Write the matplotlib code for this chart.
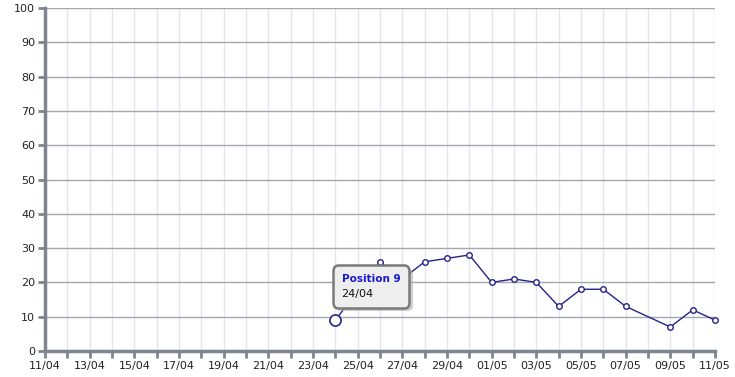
import matplotlib
matplotlib.use("Agg")
import matplotlib.pyplot as plt
import matplotlib.dates as mdates
from matplotlib.offsetbox import TextArea, VPacker, AnnotationBbox
import pandas as pd

# data
dates = ["2010-04-24", "2010-04-26", "2010-04-27", "2010-04-28", "2010-04-29",
         "2010-04-30", "2010-05-01", "2010-05-02", "2010-05-03", "2010-05-04",
         "2010-05-05", "2010-05-06", "2010-05-07", "2010-05-09", "2010-05-10",
         "2010-05-11"]
positions = [9, 26, 21, 26, 27, 28, 20, 21, 20, 13, 18, 18, 13, 7, 12, 9]
start, end = "2010-04-11", "2010-05-11"
tip_title = "Position 9"
tip_date = "24/04"

x = pd.to_datetime(dates)
axis_grey = "#7f858f"
line_col = "#23238c"

fig = plt.figure(figsize=(7.35, 3.77), dpi=100)
ax = fig.add_axes([45 / 735, 26 / 377, 670 / 735, 343 / 377])

# grid
ax.set_ylim(0, 100)
ax.set_xlim(pd.Timestamp(start), pd.Timestamp(end))
ax.set_yticks(range(0, 101, 10))
ax.set_xticks(pd.date_range(start, end, freq="2D"))
ax.set_xticks(pd.date_range(start, end, freq="D"), minor=True)
ax.xaxis.set_major_formatter(mdates.DateFormatter("%d/%m"))
ax.grid(axis="y", color="#a3a7ae", linewidth=1)
ax.grid(axis="x", which="both", color="#e6e6ea", linewidth=1)
ax.set_axisbelow(True)

for s in ["top", "right"]:
    ax.spines[s].set_visible(False)
for s in ["left", "bottom"]:
    ax.spines[s].set_color(axis_grey)
    ax.spines[s].set_linewidth(2.5)
ax.tick_params(which="both", length=5, width=2, color=axis_grey,
               labelsize=8, labelcolor="#222222", pad=2)

# line
ax.plot(x, positions, color=line_col, linewidth=1, marker="o", markersize=4,
        markerfacecolor="white", markeredgecolor=line_col, markeredgewidth=1,
        clip_on=False, zorder=3)
ax.plot(x[0], positions[0], marker="o", markersize=8, markerfacecolor="white",
        markeredgecolor=line_col, markeredgewidth=1.2, clip_on=False, zorder=4)

# tooltip
for shadow in (True, False):
    title = TextArea(tip_title, textprops=dict(color="#1a1acc", fontsize=7.5,
                                               fontweight="bold",
                                               alpha=0 if shadow else 1))
    sub = TextArea(tip_date, textprops=dict(color="#111111", fontsize=8,
                                            alpha=0 if shadow else 1))
    box = VPacker(children=[title, sub], align="left", pad=0, sep=3)
    off = (2.5, -2.5) if shadow else (0, 0)
    ab = AnnotationBbox(box, (x[0], positions[0]),
                        xybox=(4.5 + off[0], 15.5 + off[1]),
                        boxcoords="offset points", box_alignment=(0, 0),
                        frameon=True,
                        bboxprops=dict(boxstyle="round,pad=0.65,rounding_size=0.4",
                                       fc="#b0b0b0" if shadow else "#eeeeee",
                                       ec="none" if shadow else "#7a7a7a",
                                       lw=1.8, alpha=0.6 if shadow else 1),
                        zorder=5)
    ax.add_artist(ab)

fig.savefig("out.png", dpi=100)
